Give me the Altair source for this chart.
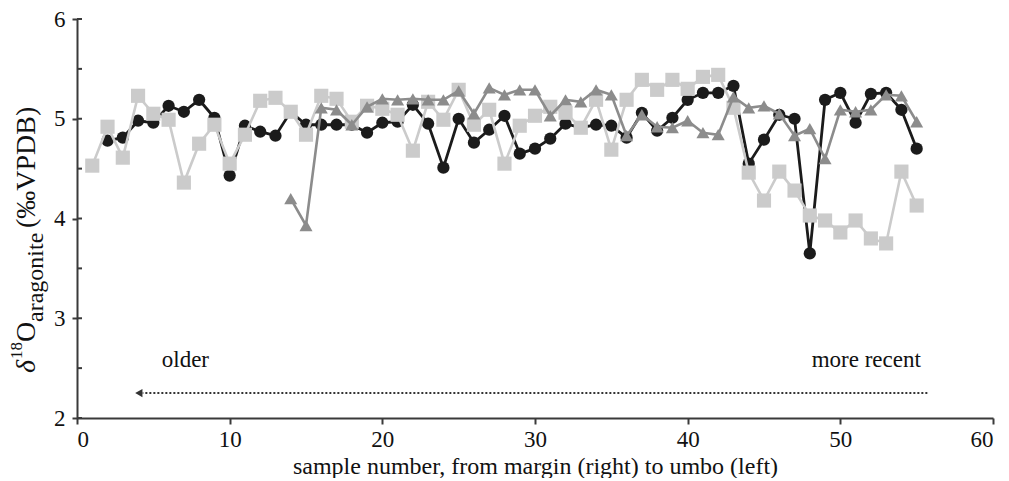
import altair as alt
import pandas as pd

# ---- data ----
sq_x = list(range(1, 56))
sq_y = [4.53, 4.92, 4.61, 5.23, 5.05, 4.99, 4.36, 4.75, 4.94, 4.55,
        4.84, 5.18, 5.21, 5.07, 4.84, 5.23, 5.20, 4.97, 5.13, 5.10,
        5.04, 4.68, 5.17, 4.99, 5.29, 4.94, 5.09, 4.55, 4.93, 5.03,
        5.12, 5.06, 4.91, 5.19, 4.69, 5.19, 5.39, 5.29, 5.39, 5.30,
        5.42, 5.44, 5.11, 4.46, 4.18, 4.47, 4.28, 4.03, 3.98, 3.86,
        3.98, 3.80, 3.75, 4.47, 4.13]

ci_x = list(range(2, 56))
ci_y = [4.78, 4.81, 4.98, 4.96, 5.13, 5.07, 5.19, 5.01, 4.43, 4.93,
        4.87, 4.83, 5.07, 4.94, 4.94, 4.94, 4.94, 4.86, 4.96, 4.97,
        5.14, 4.95, 4.51, 5.00, 4.76, 4.89, 5.03, 4.65, 4.70, 4.80,
        4.95, 4.91, 4.94, 4.93, 4.81, 5.06, 4.88, 5.01, 5.19, 5.26,
        5.26, 5.33, 4.55, 4.79, 5.04, 5.00, 3.65, 5.19, 5.26, 4.96,
        5.25, 5.26, 5.09, 4.70]

tr_x = list(range(14, 56))
tr_y = [4.20, 3.93, 5.11, 5.09, 4.94, 5.12, 5.20, 5.19, 5.20, 5.19,
        5.19, 5.28, 5.05, 5.31, 5.24, 5.29, 5.29, 5.03, 5.19, 5.17,
        5.29, 5.24, 4.83, 5.04, 4.92, 4.91, 4.98, 4.86, 4.84, 5.22,
        5.11, 5.13, 5.05, 4.83, 4.90, 4.60, 5.09, 5.07, 5.09, 5.24,
        5.23, 4.97]

x_ticks = [0, 10, 20, 30, 40, 50, 60]
y_ticks = [2, 3, 4, 5, 6]
y_inner_ticks = [2, 2.5, 3, 3.5, 4, 4.5, 5, 5.5, 6]

arrow_start = [55.7]
arrow_end = [4.3]
arrow_head = [4.05]
arrow_level = [2.25]

note_text = ["older", "more recent"]
note_x = [7.1, 51.7]
note_y = [2.58, 2.58]

x_title = "sample number, from margin (right) to umbo (left)"

FONT = "Liberation Serif"
AX = "#3a3a3a"
INK = "#111111"

xscale = alt.Scale(domain=[0, 60], nice=False)
yscale = alt.Scale(domain=[2, 6], nice=False, zero=False)

sq_df = pd.DataFrame({"x": sq_x, "y": sq_y})
ci_df = pd.DataFrame({"x": ci_x, "y": ci_y})
tr_df = pd.DataFrame({"x": tr_x, "y": tr_y})

common_axis = dict(
    labelFont=FONT, labelFontSize=23, labelColor=INK,
    titleFont=FONT, titleFontSize=24, titleFontWeight="normal", titleColor=INK,
    domainColor=AX, domainWidth=2, tickColor=AX, tickWidth=2, grid=False,
)


def series(df, color, shape, size, width):
    return alt.Chart(df).mark_line(
        color=color, strokeWidth=width,
        point=alt.OverlayMarkDef(shape=shape, size=size, filled=True,
                                 color=color, opacity=1, strokeWidth=0)
    ).encode(
        x=alt.X("x:Q", scale=xscale),
        y=alt.Y("y:Q", scale=yscale),
    )


axes_layer = alt.Chart(pd.DataFrame({"x": [0], "y": [2]})).mark_point(opacity=0).encode(
    x=alt.X("x:Q", scale=xscale,
            axis=alt.Axis(values=x_ticks, format="d", tickSize=6, labelPadding=4,
                          title=x_title, titlePadding=3, **common_axis)),
    y=alt.Y("y:Q", scale=yscale,
            axis=alt.Axis(values=y_ticks, format="d", tickSize=5, labelPadding=7,
                          title="", **common_axis)),
)

inner_ticks = alt.Chart(pd.DataFrame({"v": y_inner_ticks})).mark_rule(
    color=AX, strokeWidth=2
).encode(
    y=alt.Y("v:Q", scale=yscale),
    x=alt.value(0), x2=alt.value(5),
)

circles = series(ci_df, "#1b1b1b", "circle", 150, 2.8)
squares = series(sq_df, "#cbcbcb", "square", 200, 2.6)
triangles = series(tr_df, "#8c8c8c", "triangle-up", 170, 2.6)

arrow_df = pd.DataFrame({"x": arrow_start, "x2": arrow_end, "y": arrow_level, "h": arrow_head})
arrow_line = alt.Chart(arrow_df).mark_rule(
    color="#333333", strokeWidth=2, strokeDash=[2, 2]
).encode(
    x=alt.X("x:Q", scale=xscale), x2="x2:Q",
    y=alt.Y("y:Q", scale=yscale),
)
arrow_tip = alt.Chart(arrow_df).mark_point(
    shape="triangle-left", size=70, filled=True, color="#333333", opacity=1
).encode(
    x=alt.X("h:Q", scale=xscale),
    y=alt.Y("y:Q", scale=yscale),
)

notes = alt.Chart(pd.DataFrame({"t": note_text, "x": note_x, "y": note_y})).mark_text(
    font=FONT, fontSize=23, color=INK, align="center", baseline="middle"
).encode(
    x=alt.X("x:Q", scale=xscale),
    y=alt.Y("y:Q", scale=yscale),
    text="t:N",
)


# rotated y-axis title, built from pieces (superscript / subscript)
def piece(txt, size, px, py, style="normal"):
    return alt.Chart(pd.DataFrame({"t": [txt]})).mark_text(
        font=FONT, fontSize=size, fontStyle=style, color=INK,
        angle=270, align="left", baseline="alphabetic"
    ).encode(x=alt.value(px), y=alt.value(py), text="t:N")


ytitle = [
    piece("δ", 28, -42, 354, "italic"),
    piece("18", 17, -55, 340),
    piece("O", 28, -42, 323),
    piece("aragonite", 24, -34, 303),
    piece("(‰VPDB)", 28, -42, 209),
]

chart = alt.layer(
    axes_layer, inner_ticks, circles, squares, triangles,
    arrow_line, arrow_tip, notes, *ytitle
).properties(
    width=916, height=399,
    autosize=alt.AutoSizeParams(type="none"),
    padding={"left": 69, "top": 11, "right": 4, "bottom": 60},
).configure_axis(
    labelFont=FONT, labelFontSize=23, labelColor=INK,
    titleFont=FONT, titleFontSize=24, titleFontWeight="normal", titleColor=INK,
).configure_view(stroke=None)

chart.save("out.html", embed_options={"renderer": "svg", "actions": False})
